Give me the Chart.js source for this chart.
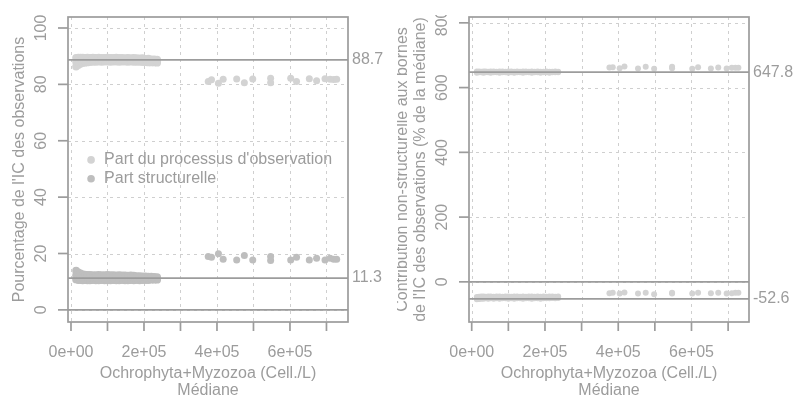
<!DOCTYPE html>
<html>
<head>
<meta charset="utf-8">
<script src="https://cdn.jsdelivr.net/npm/chart.js@4.4.1/dist/chart.umd.min.js"></script>
<style>
body{margin:0;background:#fff;}
#wrap{position:relative;width:795px;height:397px;}
canvas{position:absolute;top:0;}
#c1{left:0;}
#c2{left:397px;}
</style>
</head>
<body>
<div id="wrap">
<canvas id="c1" width="397" height="397"></canvas>
<canvas id="c2" width="398" height="397"></canvas>
</div>
<script>
/* ================= DATA ================= */
// dense group of medians (x)
const denseX = [14000,20000,26000,32000,38000,45000,52000,60000,68000,76000,84000,92000,100000,108000,116000,124000,132000,140000,148000,156000,164000,172000,180000,188000,196000,204000,212000,220000,228000,236000];

// left panel, "Part du processus d'observation" (three bands of the blob)
const obsHi  = [89.4,89.5,89.5,89.5,89.4,89.5,89.4,89.5,89.4,89.5,89.4,89.4,89.5,89.4,89.4,89.5,89.4,89.4,89.3,89.4,89.3,89.4,89.3,89.2,89.3,89.0,89.1,88.9,88.9,88.8];
const obsMid = [88.0,88.4,88.5,88.6,88.5,88.6,88.7,88.6,88.7,88.6,88.7,88.6,88.7,88.6,88.7,88.6,88.6,88.7,88.6,88.6,88.5,88.6,88.5,88.5,88.4,88.4,88.3,88.3,88.2,88.2];
const obsLo  = [86.3,86.9,87.3,87.6,87.7,87.8,87.9,88.0,88.0,88.1,88.0,88.1,88.1,88.0,88.1,88.1,88.0,88.1,88.1,88.0,88.1,88.0,88.0,88.0,87.9,87.9,87.8,87.8,87.8,87.7];

// left panel, "Part structurelle"
const strHi  = [13.9,13.3,12.9,12.6,12.5,12.4,12.4,12.3,12.3,12.4,12.3,12.3,12.4,12.3,12.3,12.2,12.3,12.2,12.2,12.1,12.2,12.1,12.0,12.0,11.9,11.9,11.8,11.8,11.7,11.6];
const strMid = [12.2,11.9,11.7,11.6,11.5,11.5,11.4,11.4,11.4,11.3,11.4,11.3,11.3,11.4,11.3,11.3,11.3,11.4,11.3,11.3,11.3,11.3,11.3,11.2,11.3,11.2,11.2,11.2,11.1,11.1];
const strLo  = [10.8,10.6,10.6,10.5,10.6,10.5,10.5,10.6,10.5,10.5,10.6,10.5,10.5,10.5,10.6,10.5,10.5,10.6,10.5,10.5,10.6,10.5,10.6,10.5,10.6,10.6,10.6,10.7,10.7,10.7];

// right panel, upper and lower bounds contribution
const upHi  = [650,650,649,650,650,649,650,650,649,650,650,649,650,650,649,650,649,650,650,649,650,649,650,649,649,650,649,649,650,649];
const upLo  = [646,647,647,646,647,647,646,647,647,646,647,647,646,647,646,647,647,646,647,647,646,647,647,646,647,647,646,647,647,647];
const lowHi = [-47,-46,-45,-45,-46,-45,-45,-46,-45,-45,-46,-45,-45,-46,-45,-45,-46,-45,-46,-45,-45,-46,-45,-46,-45,-46,-45,-45,-46,-45];
const lowLo = [-54,-53,-52,-52,-51,-52,-51,-52,-51,-52,-51,-51,-52,-51,-52,-51,-51,-52,-51,-51,-52,-51,-51,-52,-51,-51,-51,-50,-51,-50];

// sparse group
const sparseX   = [376000,385000,404000,417000,454000,475000,498000,547000,547000,602000,618000,653000,673000,696000,710000,720000,728000];
const sparseObs = [81.0,81.6,80.4,81.8,81.9,80.6,81.9,82.2,80.6,82.2,81.0,82.0,81.3,82.0,81.8,81.7,81.8];
const sparseStr = [18.9,18.7,19.9,18.0,17.7,19.3,17.7,18.9,17.5,17.7,18.7,17.7,18.3,17.7,18.3,18.0,18.0];
const sparseUp  = [662,663,660,665,659,664,658,664,660,658,663,659,662,659,661,661,661];
const sparseLow = [-35,-34,-36,-33,-36,-34,-38,-34,-36,-36,-34,-35,-34,-36,-35,-34,-34];

// axes
const xTickMarks = [0,100000,200000,300000,400000,500000,600000,700000];
const xTicks = [0,200000,400000,600000];
const xTickLabels = ["0e+00","2e+05","4e+05","6e+05"];
const yTicksLeft = [0,20,40,60,80,100];
const yTicksRight = [0,200,400,600,800];

// reference lines
const refLeft = [88.7, 11.3];
const refRight = [647.8, -52.6];

const xTitle = ["Ochrophyta+Myzozoa (Cell./L)","Médiane"];
const yTitleLeft = ["Pourcentage de l'IC des observations"];
const yTitleRight = ["Contribution non-structurelle aux bornes","de l'IC des observations (% de la médiane)"];
const legendLabels = ["Part du processus d'observation","Part structurelle"];

/* ================= STYLE ================= */
const FONT = "16px 'Liberation Sans', Arial, sans-serif";
const TXT = "#9c9c9c";
const LINE = "#9c9c9c";
const GRID = "#cfcfcf";
const LIGHT = "#d3d3d3";
const DARK = "#bebebe";

function pts(xs, ys){
return xs.map((x,i)=>({x:x, y:ys[i]}));
}

function rotText(ctx, txt, x, y){
ctx.save();
ctx.translate(x,y);
ctx.rotate(-Math.PI/2);
ctx.fillText(txt,0,0);
ctx.restore();
}

/* ================= PLUGIN ================= */
function panelPlugin(cfg){
return {
id:"panel",
beforeDatasetsDraw(chart){
let ctx = chart.ctx, a = chart.chartArea;
let xs = chart.scales.x, ys = chart.scales.y;
ctx.save();
ctx.strokeStyle = GRID;
ctx.lineWidth = 1;
ctx.setLineDash([3,4]);
xTickMarks.forEach(v=>{
let px = Math.round(xs.getPixelForValue(v))+0.5;
ctx.beginPath(); ctx.moveTo(px,a.top); ctx.lineTo(px,a.bottom); ctx.stroke();
});
cfg.yTicks.forEach(v=>{
let py = Math.round(ys.getPixelForValue(v))+0.5;
ctx.beginPath(); ctx.moveTo(a.left,py); ctx.lineTo(a.right,py); ctx.stroke();
});
ctx.restore();
},
afterDatasetsDraw(chart){
let ctx = chart.ctx, a = chart.chartArea;
let xs = chart.scales.x, ys = chart.scales.y;
ctx.save();
ctx.strokeStyle = LINE;
ctx.lineWidth = 1.7;
// zero line
let p0 = ys.getPixelForValue(0);
ctx.beginPath(); ctx.moveTo(a.left,p0); ctx.lineTo(a.right,p0); ctx.stroke();
cfg.refs.forEach(v=>{
let py = ys.getPixelForValue(v);
ctx.beginPath(); ctx.moveTo(a.left,py); ctx.lineTo(a.right,py); ctx.stroke();
});
ctx.restore();
},
afterDraw(chart){
let ctx = chart.ctx, a = chart.chartArea;
let xs = chart.scales.x, ys = chart.scales.y;
ctx.save();
// box
ctx.strokeStyle = LINE;
ctx.lineWidth = 1.7;
ctx.strokeRect(a.left, a.top, a.right-a.left, a.bottom-a.top);
// x ticks
xTickMarks.forEach(v=>{
let px = xs.getPixelForValue(v);
ctx.beginPath(); ctx.moveTo(px,a.bottom); ctx.lineTo(px,a.bottom+9); ctx.stroke();
});
// y ticks
cfg.yTicks.forEach(v=>{
let py = ys.getPixelForValue(v);
ctx.beginPath(); ctx.moveTo(a.left,py); ctx.lineTo(a.left-10,py); ctx.stroke();
});
ctx.fillStyle = TXT;
ctx.font = FONT;
ctx.textAlign = "center";
ctx.textBaseline = "middle";
xTicks.forEach((v,i)=>{
ctx.fillText(xTickLabels[i], xs.getPixelForValue(v), a.bottom+31);
});
let cx = (a.left+a.right)/2;
ctx.fillText(xTitle[0], cx, a.bottom+52);
ctx.fillText(xTitle[1], cx, a.bottom+69);
ctx.save();
ctx.beginPath(); ctx.rect(0,15,chart.width,chart.height); ctx.clip();
cfg.yTicks.forEach(v=>{
rotText(ctx, String(v), a.left-26, ys.getPixelForValue(v));
});
ctx.restore();
let cy = (a.top+a.bottom)/2;
let n = cfg.yTitle.length;
cfg.yTitle.forEach((t,i)=>{
rotText(ctx, t, a.left-48-(n-1-i)*18, cy);
});
// reference labels
ctx.textAlign = "left";
cfg.refs.forEach(v=>{
ctx.fillText(String(v), a.right+4, ys.getPixelForValue(v));
});
// legend
if(cfg.legend){
let cols = [LIGHT, DARK];
legendLabels.forEach((t,i)=>{
let ly = ys.getPixelForValue(cfg.legend.y[i]);
let lx = xs.getPixelForValue(cfg.legend.x);
ctx.fillStyle = cols[i];
ctx.beginPath(); ctx.arc(lx, ly, 3.8, 0, Math.PI*2); ctx.fill();
ctx.fillStyle = TXT;
ctx.fillText(t, lx+13, ly);
});
}
ctx.restore();
}
};
}

function ds(data, color, r){
return {data:data, backgroundColor:color, borderWidth:0, pointRadius:r, pointHoverRadius:r};
}

function makeChart(id, datasets, xr, yr, pad, cfg){
return new Chart(document.getElementById(id), {
type:"scatter",
data:{datasets:datasets},
options:{
responsive:false,
animation:false,
devicePixelRatio:1,
layout:{padding:pad},
plugins:{legend:{display:false}, tooltip:{enabled:false}},
scales:{
x:{type:"linear", min:xr[0], max:xr[1], display:false},
y:{type:"linear", min:yr[0], max:yr[1], display:false}
}
},
plugins:[panelPlugin(cfg)]
});
}

/* ================= LEFT ================= */
makeChart("c1", [
ds(pts(denseX,obsHi), LIGHT, 3.9),
ds(pts(denseX,obsMid), LIGHT, 3.9),
ds(pts(denseX,obsLo), LIGHT, 3.9),
ds(pts(sparseX,sparseObs), LIGHT, 3.5),
ds(pts(denseX,strHi), DARK, 3.9),
ds(pts(denseX,strMid), DARK, 3.9),
ds(pts(denseX,strLo), DARK, 3.9),
ds(pts(sparseX,sparseStr), DARK, 3.5)
], [-8200, 759000], [-4.3, 103.9], {left:68, right:49, top:17, bottom:75},
{yTicks:yTicksLeft, refs:refLeft, yTitle:yTitleLeft, legend:{x:55000, y:[53.2, 46.5]}});

/* ================= RIGHT ================= */
makeChart("c2", [
ds(pts(denseX,upHi), LIGHT, 3),
ds(pts(denseX,upLo), LIGHT, 3),
ds(pts(sparseX,sparseUp), LIGHT, 3),
ds(pts(denseX,lowHi), LIGHT, 3),
ds(pts(denseX,lowLo), LIGHT, 3),
ds(pts(sparseX,sparseLow), LIGHT, 3)
], [-7400, 757000], [-124, 818], {left:72, right:46, top:17, bottom:75},
{yTicks:yTicksRight, refs:refRight, yTitle:yTitleRight});
</script>
</body>
</html>
